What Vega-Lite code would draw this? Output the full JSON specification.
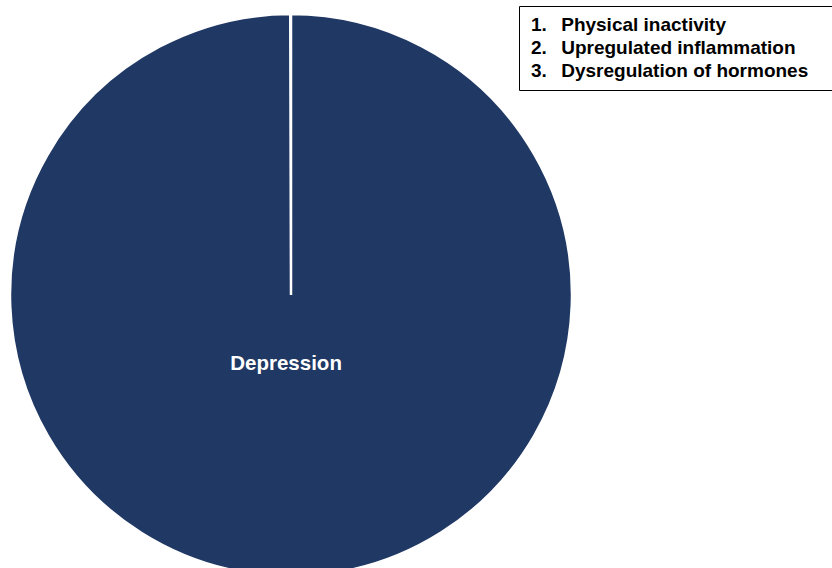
{
  "$schema": "https://vega.github.io/schema/vega-lite/v6.json",
  "autosize": "none",
  "width": 582,
  "height": 546,
  "padding": {"left": 0, "top": 22, "right": 250, "bottom": 0},
  "background": "white",
  "config": {"view": {"stroke": null}, "font": "Liberation Sans"},
  "layer": [
    {
      "data": {"values": [{"category": "Depression", "value": 1}]},
      "mark": {"type": "arc", "radius": 281, "color": "#203864", "stroke": "white", "strokeWidth": 2.5},
      "encoding": {
        "theta": {"field": "value", "type": "quantitative", "stack": true, "scale": {"range": [0, 6.2805]}}
      }
    },
    {
      "data": {"values": [{"category": "Depression", "value": 1}]},
      "mark": {"type": "text", "radius": 69, "dx": -5, "color": "white", "fontWeight": "bold", "fontSize": 20.5, "font": "Liberation Sans"},
      "encoding": {
        "theta": {"field": "value", "type": "quantitative", "stack": true},
        "text": {"field": "category", "type": "nominal"}
      }
    },
    {
      "data": {"values": [
        {"item": "1.\u00a0\u00a0\u2009Physical inactivity"},
        {"item": "2.\u00a0\u00a0\u2009Upregulated inflammation"},
        {"item": "3.\u00a0\u00a0\u2009Dysregulation of hormones\u00a0\u2800"}
      ]},
      "mark": {"type": "point", "opacity": 0},
      "encoding": {
        "color": {
          "field": "item", "type": "nominal", "sort": null,
          "legend": {
            "title": null, "orient": "none", "legendX": 519, "legendY": -16,
            "strokeColor": "black", "padding": 9,
            "labelFont": "Liberation Sans", "labelFontSize": 19, "labelFontWeight": "bold", "labelColor": "black",
            "labelLimit": 400, "symbolSize": 0.01, "symbolOpacity": 0, "symbolStrokeWidth": 0.01, "labelOffset": -16, "rowPadding": 3
          }
        }
      }
    }
  ]
}
